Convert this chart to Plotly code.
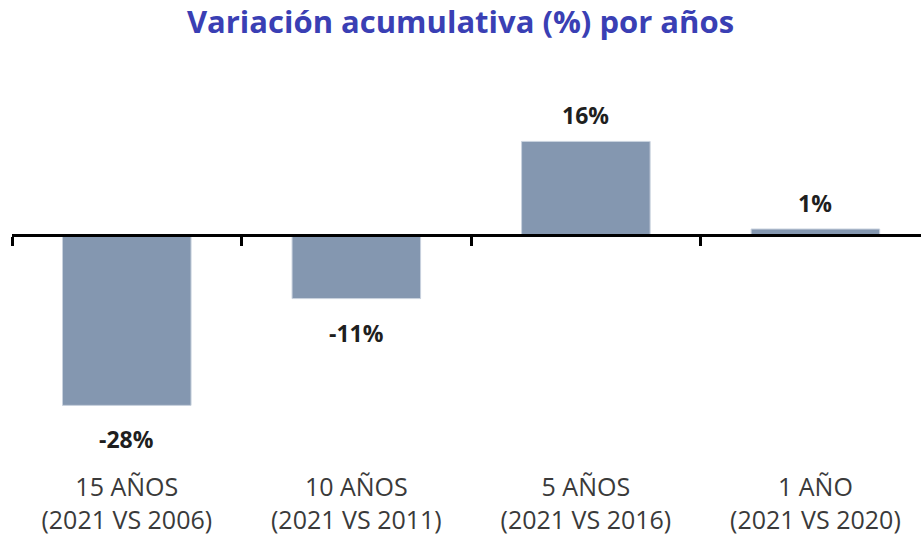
import plotly.graph_objects as go

categories = ["15 AÑOS<br>(2021 VS 2006)", "10 AÑOS<br>(2021 VS 2011)",
              "5 AÑOS<br>(2021 VS 2016)", "1 AÑO<br>(2021 VS 2020)"]
values = [-28.4, -10.6, 15.6, 1.0]
title_text = "Variación acumulativa (%) por años"

y_min, y_max = -39.17, 29.17
x_range = [-0.5, 3.46]
boundaries = [-0.5, 0.5, 1.5, 2.5, 3.5]

fig = go.Figure()
fig.add_trace(go.Bar(
    x=categories, y=values,
    marker=dict(color="#8497B0", line=dict(color="#C9D2DE", width=1)),
    showlegend=False, hoverinfo="skip",
))
fig.add_trace(go.Scatter(x=[], y=[], xaxis="x2", showlegend=False))

for c, v in zip(categories, values):
    fig.add_annotation(
        x=c, y=v, text=f"<b>{v:.0f}%</b>", showarrow=False,
        yanchor="bottom" if v >= 0 else "top",
        yshift=8 if v >= 0 else -16,
        font=dict(family="Open Sans", size=23, color="#1f1f1f"),
    )

zero_pos = (0 - y_min) / (y_max - y_min)

fig.update_layout(
    width=921, height=537,
    margin=dict(l=12, r=0, t=60, b=67, autoexpand=False),
    paper_bgcolor="white", plot_bgcolor="white",
    bargap=0.44,
    title=dict(text=f"<b>{title_text}</b>", x=0.5, xanchor="center",
               y=1 - 22 / 537, yanchor="middle",
               font=dict(family="Open Sans", size=31, color="#3A3FB4")),
    xaxis=dict(range=x_range, showline=False, ticks="", showgrid=False,
               automargin=False,
               tickfont=dict(family="Open Sans", size=25, color="#3a3a3a")),
    xaxis2=dict(overlaying="x", anchor="free", position=zero_pos, side="bottom",
                range=x_range, tickmode="array", tickvals=boundaries,
                showticklabels=False, ticks="outside", ticklen=9, tickwidth=3,
                tickcolor="black", showline=True, linewidth=3, linecolor="black",
                showgrid=False, zeroline=False, automargin=False),
    yaxis=dict(range=[y_min, y_max], visible=False, showgrid=False, zeroline=False,
               automargin=False),
)

fig.write_html("out.html", config={"displayModeBar": False},
               post_script="document.body.style.margin='0';document.body.style.overflow='hidden';")
